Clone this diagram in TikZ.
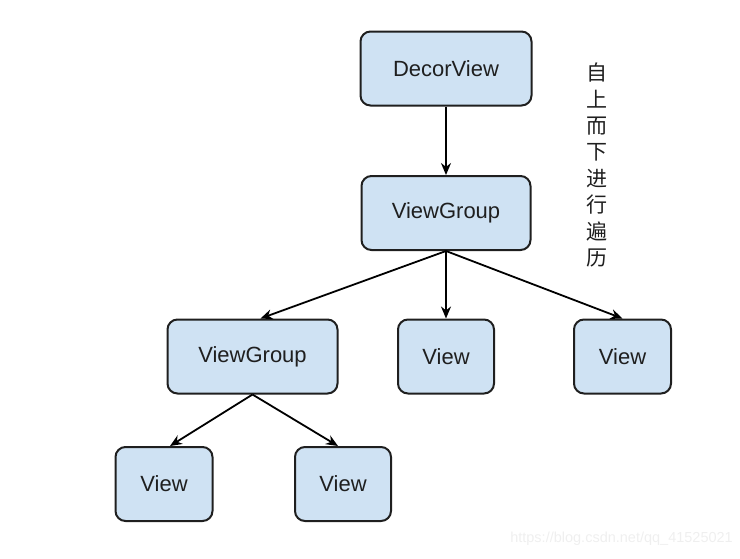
\documentclass[tikz,border=0pt]{standalone}
\usepackage{fontspec}
\setmainfont{Liberation Sans}
\newfontfamily\cjk{Noto Sans CJK SC}
\usetikzlibrary{arrows.meta}
\definecolor{boxfill}{HTML}{CFE2F3}
\definecolor{boxline}{HTML}{1F1F1F}
\definecolor{wm}{HTML}{EFEFEF}
\begin{document}
\begin{tikzpicture}[x=1pt,y=-1pt,
  box/.style={draw=boxline, line width=2pt, fill=boxfill, rounded corners=10pt,
    minimum height=74pt, inner sep=0pt, font=\fontsize{22}{26}\selectfont, text=boxline},
  arr/.style={draw=black, line width=1.8pt, -{Stealth[length=12pt,width=10pt]}}]
\useasboundingbox (0,0) rectangle (740,558);
\node[box, minimum width=171pt] (decor) at (446,68.5) {DecorView};
\node[box, minimum width=169pt] (vg) at (446,213) {ViewGroup};
\node[box, minimum width=170pt] (vg2) at (252.5,356.5) {ViewGroup};
\node[box, minimum width=96pt] (v1) at (446,356.5) {View};
\node[box, minimum width=97pt] (v2) at (622.5,356.5) {View};
\node[box, minimum width=97pt] (v3) at (164,484) {View};
\node[box, minimum width=96pt] (v4) at (343,484) {View};
\draw[arr] (decor.south) -- (vg.north);
\draw[arr] (vg.south) -- ([xshift=8pt]vg2.north);
\draw[arr] (vg.south) -- (v1.north);
\draw[arr] (vg.south) -- (v2.north);
\draw[arr] (vg2.south) -- ([xshift=6pt]v3.north);
\draw[arr] (vg2.south) -- ([xshift=-5pt]v4.north);
\node[font=\cjk\fontsize{21}{26.4}\selectfont, align=center, inner sep=0pt, text=boxline] (note) at (597,165)
  {自\\上\\而\\下\\进\\行\\遍\\历};
\node[anchor=east, font=\fontsize{14.5}{17}\selectfont, text=wm, inner sep=0pt] (wmark) at (733,539)
  {https://blog.csdn.net/qq\_41525021};
\end{tikzpicture}
\end{document}
